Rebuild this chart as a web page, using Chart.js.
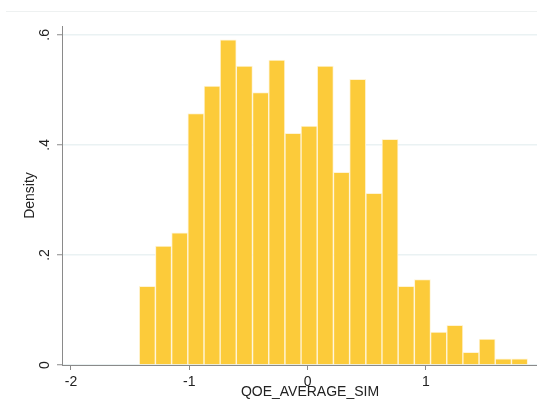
<!DOCTYPE html>
<html>
<head>
<meta charset="utf-8">
<script src="https://cdn.jsdelivr.net/npm/chart.js@4.4.0/dist/chart.umd.min.js"></script>
<style>
  html, body { margin: 0; padding: 0; background: #fff; overflow: hidden; }
  #wrap { width: 558px; height: 403px; }
</style>
</head>
<body>
<div id="wrap"><canvas id="hist" width="558" height="403"></canvas></div>
<script>
// bin midpoints of the histogram (QOE_AVERAGE_SIM)
const binCenters = [-1.355, -1.218, -1.081, -0.944, -0.807, -0.671, -0.534, -0.397,
  -0.260, -0.123, 0.013, 0.150, 0.287, 0.424, 0.561, 0.697,
  0.834, 0.971, 1.108, 1.245, 1.381, 1.518, 1.655, 1.792];
// density of each bin
const densities = [0.143, 0.216, 0.240, 0.457, 0.507, 0.591, 0.543, 0.495,
  0.554, 0.421, 0.434, 0.543, 0.350, 0.519, 0.312, 0.410,
  0.143, 0.155, 0.060, 0.072, 0.023, 0.047, 0.011, 0.011];

const xTicks = [-2, -1, 0, 1];
const xTickLabels = ["-2", "-1", "0", "1"];
const yTicks = [0, 0.2, 0.4, 0.6];
const yTickLabels = ["0", ".2", ".4", ".6"];

const font = { family: "'Liberation Sans', Arial, sans-serif", size: 14 };
const axisGray = "#8a8a8a";

// thin frame line above the plot, as in the Stata graph region
const topLine = {
  id: "topLine",
  beforeDraw(chart) {
    const ctx = chart.ctx;
    ctx.save();
    ctx.strokeStyle = "#eef1f1";
    ctx.lineWidth = 1.2;
    ctx.beginPath();
    ctx.moveTo(6, 11.5);
    ctx.lineTo(chart.width, 11.5);
    ctx.stroke();
    ctx.restore();
  }
};

const ctx = document.getElementById("hist");
new Chart(ctx, {
  type: "bar",
  data: {
    datasets: [{
      data: binCenters.map((x, i) => ({ x: x, y: densities[i] })),
      backgroundColor: "#fccb3a",
      borderColor: "#fff4d6",
      borderWidth: 1,
      barPercentage: 1,
      categoryPercentage: 1
    }]
  },
  options: {
    responsive: false,
    animation: false,
    layout: { padding: { top: 26, left: 0, right: 0, bottom: 0 } },
    plugins: { legend: { display: false }, tooltip: { enabled: false } },
    scales: {
      x: {
        type: "linear",
        offset: false,
        z: 1,
        min: -2.076,
        max: 2.117,
        afterBuildTicks: (s) => { s.ticks = xTicks.map(v => ({ value: v })); },
        afterFit: (s) => { s.height = 38; },
        grid: { display: true, offset: false, drawOnChartArea: false, drawTicks: true, tickLength: 5, tickColor: axisGray },
        border: { display: true, color: axisGray, width: 1 },
        ticks: {
          font: font, color: "#222", padding: 4, maxRotation: 0,
          callback: (v) => xTickLabels[xTicks.indexOf(v)]
        },
        title: { display: true, text: "QOE_AVERAGE_SIM", font: font, color: "#222", padding: { top: 0, bottom: 2 } }
      },
      y: {
        type: "linear",
        min: 0,
        max: 0.616,
        afterBuildTicks: (s) => { s.ticks = yTicks.map(v => ({ value: v })); },
        afterFit: (s) => { s.width = 62; },
        grid: { color: "#eaf2f3", lineWidth: 1.5, drawTicks: true, tickLength: 5, tickColor: axisGray, tickWidth: 1 },
        border: { display: true, color: axisGray, width: 1 },
        ticks: {
          font: font, color: "#222", padding: 6, minRotation: 90, maxRotation: 90, crossAlign: "center",
          callback: (v) => yTickLabels[yTicks.indexOf(v)]
        },
        title: { display: true, text: "Density", font: font, color: "#222", padding: { top: 22, bottom: 0 } }
      }
    }
  },
  plugins: [topLine]
});
</script>
</body>
</html>
